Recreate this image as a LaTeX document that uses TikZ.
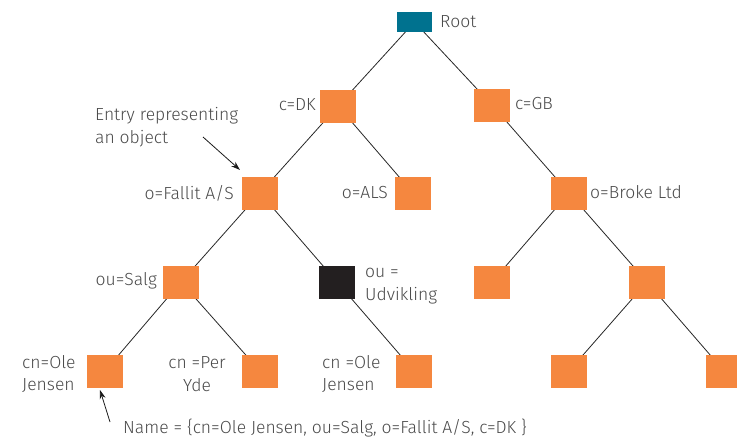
\documentclass[tikz,border=0pt]{standalone}
\usepackage{fontspec}
\setmainfont{Fira Sans}[UprightFont=* Light]
\usetikzlibrary{arrows.meta,backgrounds}
\definecolor{boxor}{HTML}{F5873F}
\definecolor{rootc}{HTML}{00728F}
\definecolor{darkbox}{HTML}{231F20}
\definecolor{txt}{HTML}{4A4A4A}
\begin{document}
\begin{tikzpicture}[x=1pt,y=-1pt,
  entry/.style={fill=boxor,draw=none,minimum width=36pt,minimum height=33pt,inner sep=0pt},
  lbl/.style={text=txt,font=\fontsize{17.5}{22.5}\selectfont,inner sep=0pt},
  edge/.style={draw=black!85,line width=0.8pt},
  pointer/.style={draw=black!90,line width=0.8pt,-{Stealth[length=9pt,width=6pt]}}]
\clip (0,0) rectangle (737,439);
\useasboundingbox (0,0) rectangle (737,439);
% nodes
\node[entry,fill=rootc,minimum width=35pt,minimum height=20pt] (root) at (414.5,22) {};
\node[entry] (dk) at (338,106) {};
\node[entry] (gb) at (492,105) {};
\node[entry] (fallit) at (260,193) {};
\node[entry] (als) at (413,193) {};
\node[entry] (broke) at (569,193) {};
\node[entry] (salg) at (181,282) {};
\node[entry,fill=darkbox] (udv) at (337,282) {};
\node[entry] (r3a) at (492,282) {};
\node[entry] (r3b) at (647,282) {};
\node[entry] (ole1) at (105,371) {};
\node[entry] (per) at (260,371) {};
\node[entry] (ole2) at (414,371) {};
\node[entry] (r4a) at (569,371) {};
\node[entry] (r4b) at (724,371) {};
% edges
\begin{pgfonlayer}{background}
\draw[edge] (root.center) -- (dk.center);
\draw[edge] (root.center) -- (gb.center);
\draw[edge] (dk.center) -- (fallit.center);
\draw[edge] (dk.center) -- (als.center);
\draw[edge] (gb.center) -- (broke.center);
\draw[edge] (fallit.center) -- (salg.center);
\draw[edge] (fallit.center) -- (udv.center);
\draw[edge] (broke.center) -- (r3a.center);
\draw[edge] (broke.center) -- (r3b.center);
\draw[edge] (salg.center) -- (ole1.center);
\draw[edge] (salg.center) -- (per.center);
\draw[edge] (udv.center) -- (ole2.center);
\draw[edge] (r3b.center) -- (r4a.center);
\draw[edge] (r3b.center) -- (r4b.center);
\end{pgfonlayer}
% labels
\node[lbl,anchor=west] (troot) at (440,22) {Root};
\node[lbl,anchor=east] (tdk) at (316,105) {c=DK};
\node[lbl,anchor=west] (tgb) at (515,104) {c=GB};
\node[lbl,anchor=west,align=left] (tentry) at (95,127) {Entry representing\\an object};
\node[lbl,anchor=east] (tfallit) at (234,193) {o=Fallit A/S};
\node[lbl,anchor=east] (tals) at (388,193) {o=ALS};
\node[lbl,anchor=west] (tbroke) at (590,192) {o=Broke Ltd};
\node[lbl,anchor=east] (tsalg) at (157,281) {ou=Salg};
\node[lbl,anchor=west,align=left] (tudv) at (365,286) {ou =\\Udvikling};
\node[lbl,anchor=west,align=left] (tole1) at (22,374) {cn=Ole\\Jensen};
\node[lbl,anchor=center,align=center] (tper) at (197,374) {cn =Per\\Yde};
\node[lbl,anchor=west,align=left] (tole2) at (322,374) {cn =Ole\\Jensen};
\node[lbl,anchor=west] (tname) at (123,428) {Name = \{cn=Ole Jensen, ou=Salg, o=Fallit A/S, c=DK \}};
\coordinate (a1s) at (203,137);
\coordinate (a1e) at (240,170);
\coordinate (a2s) at (110,422);
\coordinate (a2e) at (100,390);
\draw[pointer] (a1s) -- (a1e);
\draw[pointer] (a2s) -- (a2e);
\end{tikzpicture}
\end{document}
